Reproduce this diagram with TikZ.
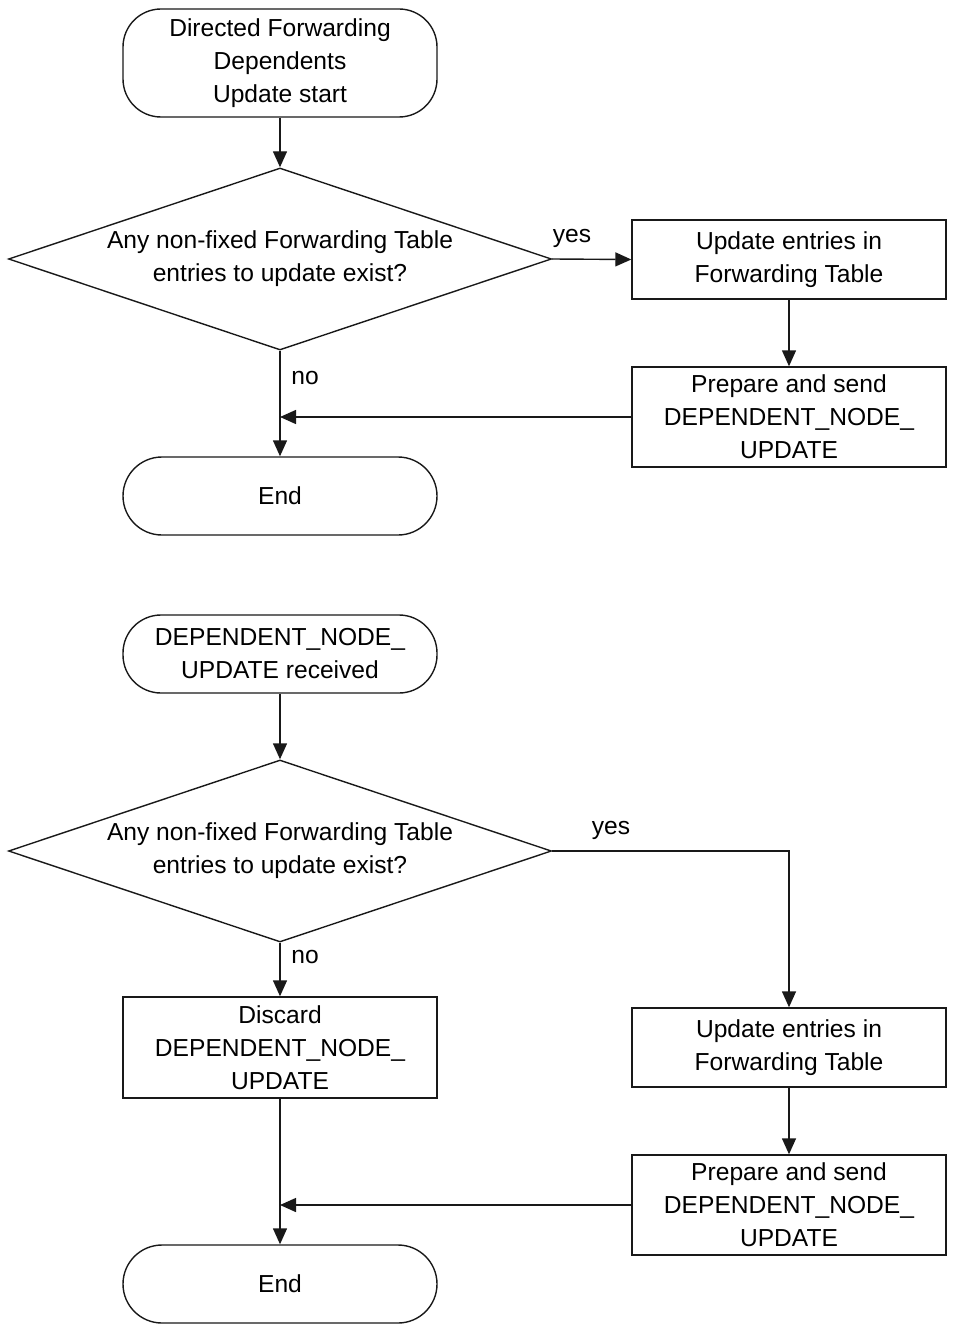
\documentclass[tikz,border=0pt]{standalone}
\usepackage{fontspec}
\setmainfont{Liberation Sans}
\usetikzlibrary{shapes.geometric,arrows.meta}
\begin{document}
\begin{tikzpicture}[x=1pt,y=-1pt,
  every node/.style={font=\fontsize{24.6}{33}\selectfont},
  line/.style={line width=1.4pt,draw=black!90},
  arr/.style={line, -{Triangle[length=16pt,width=14pt]}},
  term/.style={line,draw, rounded corners=38pt, minimum width=314pt, align=center, inner sep=0pt},
  proc/.style={line,draw, rectangle, minimum width=314pt, align=center, inner sep=0pt},
  dec/.style={line,draw, diamond, aspect=3, minimum width=543pt, minimum height=182pt, align=center, inner sep=0pt},
  lab/.style={inner sep=0pt}
]
\useasboundingbox (0,0) rectangle (956,1335);
% upper flow
\node[term, minimum height=108pt] (s1) at (280,63) {Directed Forwarding\\Dependents\\Update start};
\node[dec] (d1) at (280,259) {Any non-fixed Forwarding Table\\entries to update exist?};
\node[proc, minimum height=79pt] (u1) at (789,259.5) {Update entries in\\Forwarding Table};
\node[proc, minimum height=100pt] (p1) at (789,417) {Prepare and send\\DEPENDENT\_NODE\_\\UPDATE};
\node[term, minimum height=78pt, rounded corners=39pt] (e1) at (280,496) {End};
\node[lab] (y1) at (572,238) {yes};
\node[lab] (n1) at (305,378) {no};
\draw[arr] (s1) -- (d1);
\draw[arr] (d1.east) -- (u1.west);
\draw[arr] (u1) -- (p1);
\draw[arr] (d1.south) -- (e1.north);
\draw[arr] (p1.west) -- (p1.west -| d1.south);
% lower flow
\node[term, minimum height=78pt] (s2) at (280,654) {DEPENDENT\_NODE\_\\UPDATE received};
\node[dec] (d2) at (280,851) {Any non-fixed Forwarding Table\\entries to update exist?};
\node[proc, minimum height=101pt] (dc) at (280,1047.5) {Discard\\DEPENDENT\_NODE\_\\UPDATE};
\node[proc, minimum height=79pt] (u2) at (789,1047.5) {Update entries in\\Forwarding Table};
\node[proc, minimum height=100pt] (p2) at (789,1205) {Prepare and send\\DEPENDENT\_NODE\_\\UPDATE};
\node[term, minimum height=78pt, rounded corners=39pt] (e2) at (280,1284) {End};
\node[lab] (y2) at (611,830) {yes};
\node[lab] (n2) at (305,957) {no};
\draw[arr] (s2) -- (d2);
\draw[arr] (d2.east) -| (u2.north);
\draw[arr] (d2.south) -- (dc.north);
\draw[arr] (u2) -- (p2);
\draw[arr] (dc.south) -- (e2.north);
\draw[arr] (p2.west) -- (p2.west -| dc.south);
\end{tikzpicture}
\end{document}
